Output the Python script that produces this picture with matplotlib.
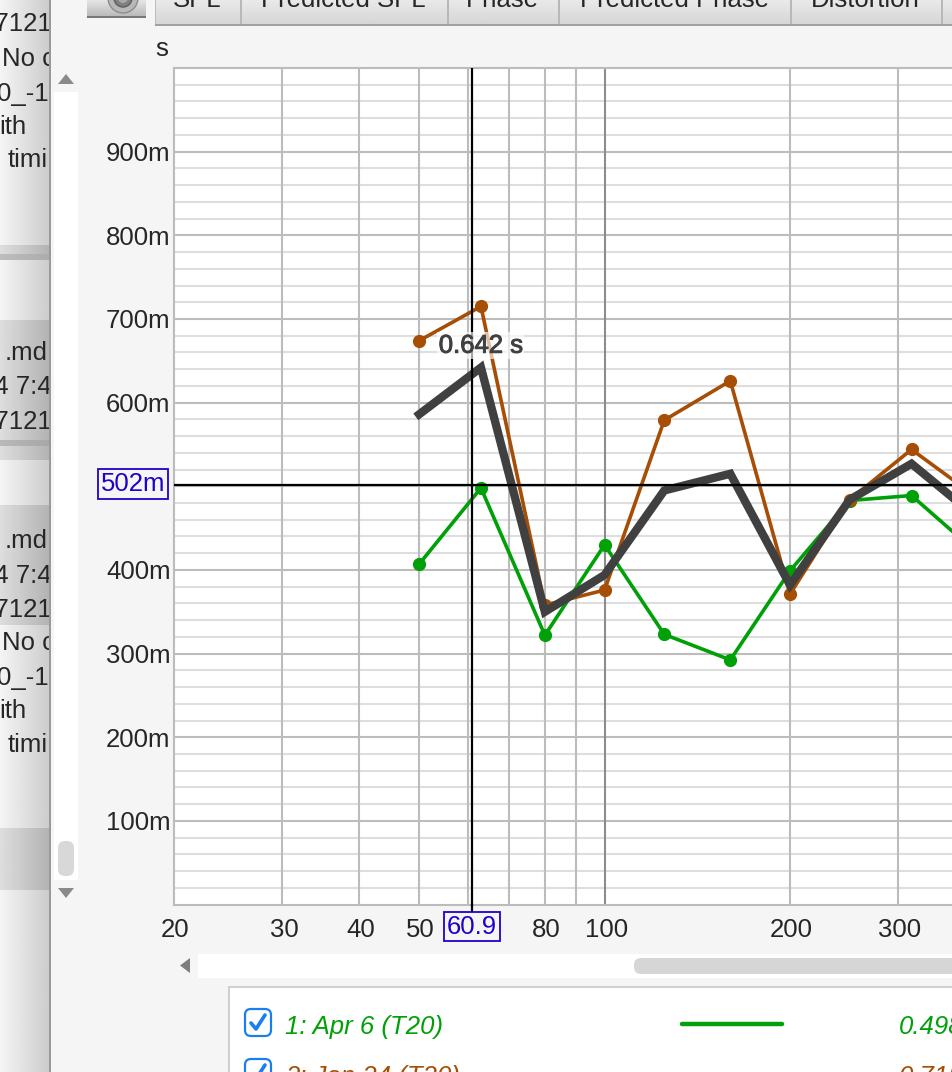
import numpy as np
import matplotlib
matplotlib.use('Agg')
import matplotlib.pyplot as plt
import matplotlib.patheffects as pe
from matplotlib.patches import Rectangle, FancyBboxPatch, Polygon, Circle
from matplotlib.transforms import offset_copy

plt.rcParams['font.family'] = ['Liberation Sans', 'DejaVu Sans']

# ---- data ----
freq = [50, 63, 80, 100, 125, 160, 200, 250, 315, 400]
t20_apr = [0.407, 0.498, 0.322, 0.430, 0.323, 0.2925, 0.399, 0.483, 0.489, 0.422]
t20_jan = [0.674, 0.715, 0.358, 0.376, 0.579, 0.626, 0.371, 0.484, 0.544, 0.488]
t20_avg = [0.586, 0.642, 0.350, 0.394, 0.495, 0.515, 0.382, 0.484, 0.527, 0.464]
x_major = [20, 30, 40, 50, 80, 100, 200, 300]
x_minor = [60, 70, 90]
y_major = [0.1, 0.2, 0.3, 0.4, 0.5, 0.6, 0.7, 0.8, 0.9]
y_major_labels = ['100m', '200m', '300m', '400m', '', '600m', '700m', '800m', '900m']
y_minor = [v / 50 for v in range(1, 50) if v % 5]
cursor_x = 60.9
cursor_y = 0.502
cursor_x_label = '60.9'
cursor_y_label = '502m'
readout = '0.642 s'
tabs = ['SPL', 'Predicted SPL', 'Phase', 'Predicted Phase', 'Distortion']
legend_names = ['1: Apr 6 (T20)', '2: Jan 24 (T20)']
legend_values = ['0.498', '0.715']

GREEN, BROWN, DARK = '#00a008', '#a64e06', '#404040'
GRID, GRID2 = '#bcbcbc', '#dedede'
BLUE = '#2200cc'
FS = 18.5

W, H = 952, 1072
fig = plt.figure(figsize=(W / 100, H / 100), dpi=100, facecolor='#f5f5f5')

# ---- window furniture in pixel coordinates ----
bg = fig.add_axes([0, 0, 1, 1], zorder=0)
bg.set_xlim(0, W)
bg.set_ylim(H, 0)
bg.axis('off')


def hgrad(x0, x1, y0, y1, c0, c1, z=1):
    g = np.linspace(c0, c1, 64).reshape(1, -1)
    bg.imshow(g, extent=[x0, x1, y1, y0], cmap='gray', vmin=0, vmax=1,
              aspect='auto', zorder=z)


def vgrad(x0, x1, y0, y1, c0, c1, z=1):
    g = np.linspace(c0, c1, 32).reshape(-1, 1)
    bg.imshow(g, extent=[x0, x1, y1, y0], cmap='gray', vmin=0, vmax=1,
              aspect='auto', zorder=z)


# sidebar
hgrad(0, 50, 0, H, 0.96, 0.80)
for y0, y1 in [(245, 260), (320, 445), (445, 460), (505, 625), (828, 890)]:
    hgrad(0, 50, y0, y1, 0.87, 0.70, z=2)
bg.add_patch(Rectangle((0, 254), 50, 6, color='#a8a8a8', alpha=0.6, zorder=3, lw=0))
bg.add_patch(Rectangle((0, 440), 50, 6, color='#a0a0a0', alpha=0.6, zorder=3, lw=0))
bg.add_patch(Rectangle((49, 0), 1.5, H, color='#9a9a9a', lw=0, zorder=4))
bg.set_xlim(0, W)
bg.set_ylim(H, 0)
clip = Rectangle((0, 0), 49, H, transform=bg.transData)
side_rows = [(-20, 24, '471210'), (2, 59, 'No c'), (-3, 94, '0_-12'), (-1, 127, 'ith'),
             (8, 160, 'timi'), (5, 353, '.md'), (-20, 387, '24 7:4'), (-20, 422, '471210'),
             (5, 541, '.md'), (-20, 576, '24 7:4'), (-20, 610, '471210'), (2, 643, 'No c'),
             (-3, 678, '0_-12'), (-1, 711, 'ith'), (8, 745, 'timi')]
for sx, sy, st in side_rows:
    t = bg.text(sx, sy, st, fontsize=FS, color='#262626', va='center', ha='left', zorder=5)
    t.set_clip_on(True)
    t.set_clip_path(clip)

# vertical scrollbar
bg.add_patch(Rectangle((54, 92), 24, 788, color='white', lw=0, zorder=2))
bg.add_patch(FancyBboxPatch((58, 841), 16, 35, boxstyle='round,pad=0,rounding_size=7',
                            fc='#d8d8d8', ec='none', zorder=3))
bg.add_patch(Polygon([[58, 84], [74, 84], [66, 74]], color='#8a8a8a', lw=0, zorder=3))
bg.add_patch(Polygon([[58, 888], [74, 888], [66, 898]], color='#8a8a8a', lw=0, zorder=3))

# horizontal scrollbar
bg.add_patch(Rectangle((198, 954), 760, 24, color='white', lw=0, zorder=2))
bg.add_patch(FancyBboxPatch((634, 958), 330, 16, boxstyle='round,pad=0,rounding_size=7',
                            fc='#d6d6d6', ec='none', zorder=3))
bg.add_patch(Polygon([[190, 958], [190, 973], [180, 965.5]], color='#7e7e7e', lw=0, zorder=3))

# camera button
vgrad(87, 146, -2, 17, 0.92, 0.72, z=2)
bg.add_patch(Rectangle((87, 16), 59, 1.5, color='#777777', lw=0, zorder=3))
bg.add_patch(Circle((123, -2), 15, fc='#b8b8b8', ec='#8c8c8c', lw=1, zorder=3))
bg.add_patch(Circle((123, -2), 9, fc='#808080', ec='#5e5e5e', lw=1, zorder=4))
bg.add_patch(Circle((123, -2), 5, fc='#a8a8a8', ec='none', zorder=5))

# tabs
vgrad(155, W, -2, 24, 0.92, 0.84, z=2)
bg.add_patch(Rectangle((155, 24), W - 155, 1.5, color='#a0a0a0', lw=0, zorder=3))
bg.add_patch(Rectangle((155, 0), 1.2, 24, color='#bdbdbd', lw=0, zorder=3))
for sepx in [240, 447, 558, 790, 941]:
    bg.add_patch(Rectangle((sepx, 0), 1.5, 24, color='#b8b8b8', lw=0, zorder=3))
for name, cx in zip(tabs, [197, 343, 502, 674, 865]):
    bg.text(cx, 7, name, fontsize=FS, color='#262626', ha='center', va='baseline', zorder=4)
bg.set_xlim(0, W)
bg.set_ylim(H, 0)

# legend panel
bg.add_patch(Rectangle((228.5, 986.5), W, 200, fc='white', ec='#c8c8c8', lw=1.2, zorder=2))
for row, (name, val, col) in enumerate(zip(legend_names, legend_values, [GREEN, BROWN])):
    y = 1024 + row * 50
    bg.add_patch(FancyBboxPatch((245, y - 15), 26, 27, boxstyle='round,pad=0,rounding_size=6',
                                fc='white', ec='#1a7fee', lw=1.6, zorder=3))
    bg.plot([251, 256, 265], [y - 1, y + 5, y - 9], color='#1a7fee', lw=2.6, zorder=4,
            solid_capstyle='round')
    bg.text(285, y + 3, name, fontsize=FS, style='italic', color=col, va='center', zorder=4)
    bg.text(899, y + 3, val, fontsize=FS, style='italic', color=col, va='center', zorder=4)
    if row == 0:
        bg.plot([682, 782], [y, y], color=col, lw=3.2, solid_capstyle='round', zorder=4)
bg.set_xlim(0, W)
bg.set_ylim(H, 0)

# ---- chart ----
LEFT, TOP, BOTTOM = 174, 68, 904.6
PX_DECADE = 616
ax = fig.add_axes([LEFT / W, 1 - BOTTOM / H, (W - LEFT) / W, (BOTTOM - TOP) / H],
                  zorder=2, facecolor='white')
ax.set_xscale('log')
ax.set_xlim(20, 20 * 10 ** ((W - LEFT) / PX_DECADE))
ax.set_ylim(0, 1.0)

ax.set_xticks(x_major)
ax.set_xticklabels([str(v) for v in x_major])
ax.set_xticks(x_minor, minor=True)
ax.set_xticklabels([], minor=True)
ax.set_yticks(y_major)
ax.set_yticklabels(y_major_labels)
ax.set_yticks(y_minor, minor=True)
ax.tick_params(which='both', length=0)
ax.tick_params(axis='x', which='major', labelsize=FS, labelcolor='#262626', pad=9.5)
ax.tick_params(axis='y', which='major', labelsize=FS, labelcolor='#262626', pad=2.5)
for lab in ax.get_xticklabels():
    lab.set_transform(offset_copy(lab.get_transform(), fig=fig, x=1.5, y=0, units='dots'))
ax.set_axisbelow(True)
ax.grid(axis='y', which='major', color=GRID, lw=1.5)
ax.grid(axis='y', which='minor', color=GRID2, lw=1.5)
for xv in sorted(x_major + x_minor)[1:]:
    ax.axvline(xv, color='#8c8c8c' if xv == 100 else GRID, lw=1.5, zorder=1)
for s in ['left', 'top', 'bottom']:
    ax.spines[s].set_color(GRID)
    ax.spines[s].set_linewidth(1.5)
ax.spines['right'].set_visible(False)

ax.plot(freq, t20_apr, color=GREEN, lw=2.6, marker='o', ms=8.5, zorder=3)
ax.plot(freq, t20_jan, color=BROWN, lw=2.6, marker='o', ms=8.5, zorder=4)
ax.plot(freq, t20_avg, color=DARK, lw=6, solid_joinstyle='miter', zorder=5)

ax.axvline(cursor_x, color='black', lw=1.6, zorder=6)
ax.axhline(cursor_y, color='black', lw=1.6, zorder=6)

ax.text(freq[1], t20_avg[1] + 0.026, readout, fontsize=FS, color=DARK,
        ha='center', va='center', zorder=7,
        path_effects=[pe.withStroke(linewidth=0.7, foreground=DARK)],
        bbox=dict(fc='white', ec='none', alpha=0.65, pad=1))

xbox = ax.get_xaxis_transform()
ybox = ax.get_yaxis_transform()
ax.annotate(cursor_x_label, (cursor_x, 0), xycoords=xbox, xytext=(0, -22),
            textcoords='offset pixels', fontsize=FS, color=BLUE, ha='center', va='center',
            annotation_clip=False, zorder=8,
            bbox=dict(fc='#f5f5f5', ec=BLUE, lw=1.3, boxstyle='square,pad=0.1'))
ax.plot([cursor_x, cursor_x], [0, -0.008], color='black', lw=1.6, clip_on=False, zorder=6)
ax.annotate(cursor_y_label, (0, cursor_y), xycoords=ybox, xytext=(-41, 1),
            textcoords='offset pixels', fontsize=FS, color=BLUE, ha='center', va='center',
            annotation_clip=False, zorder=8,
            bbox=dict(fc='#f5f5f5', ec=BLUE, lw=1.3, boxstyle='square,pad=0.12'))
fig.text(162 / W, 1 - 49 / H, 's', fontsize=FS, color='#262626', ha='center', va='center', zorder=9)

fig.savefig('out.png', dpi=100, facecolor=fig.get_facecolor())
